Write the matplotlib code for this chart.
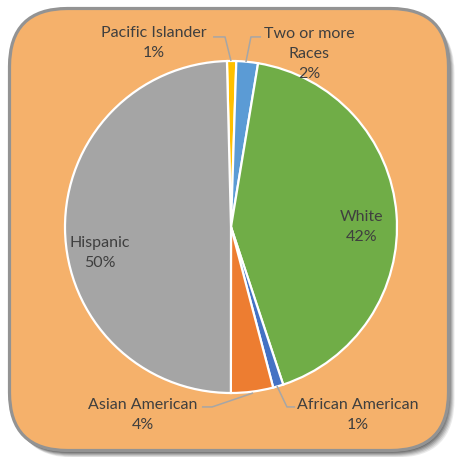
import matplotlib
matplotlib.use("Agg")
import matplotlib.pyplot as plt
from matplotlib.patches import FancyBboxPatch

categories = ["Pacific Islander", "Two or more\nRaces", "White", "African American", "Asian American", "Hispanic"]
values = [0.9, 2.1, 42.3, 1.0, 4.1, 49.6]
colors = ["#FFC000", "#5B9BD5", "#70AD47", "#4472C4", "#ED7D31", "#A5A5A5"]

plt.rcParams['font.family'] = ['Lato', 'DejaVu Sans']

W = 457
fig = plt.figure(figsize=(4.57, 4.57), dpi=100)
fig.patch.set_facecolor("white")

# background panel in pixel coordinates
bg = fig.add_axes([0, 0, 1, 1])
bg.set_xlim(0, W)
bg.set_ylim(W, 0)
bg.axis("off")
R = 58
x0, y0, x1, y1 = 9.5, 8.5, 448.5, 450.5
for i, a in enumerate([0.10, 0.13, 0.16, 0.20, 0.25, 0.32]):
    off = 7 - i
    bg.add_patch(FancyBboxPatch((x0 + R + off - 1, y0 + R + off), (x1 - x0) - 2 * R, (y1 - y0) - 2 * R,
                                boxstyle=f"round,pad={R}", fc="#3A3A3A", ec="none", alpha=a))
bg.add_patch(FancyBboxPatch((x0 + R, y0 + R), (x1 - x0) - 2 * R, (y1 - y0) - 2 * R,
                            boxstyle=f"round,pad={R}", fc="#F5B16B", ec="#939393", lw=2.3))

# pie axes: unit radius, 166 px per unit, centre at (231, 227) px
ax = fig.add_axes([0, 0, 1, 1])
ax.set_facecolor("none")
s = 166.0
cx, cy = 231.0, 227.0

total = sum(values)
start = 90 + 1.4
ax.pie(values, colors=colors, startangle=start, counterclock=False, radius=1.0,
       wedgeprops=dict(edgecolor="white", linewidth=1.6))
ax.set_xlim(-cx / s, (W - cx) / s)
ax.set_ylim(-(W - cy) / s, cy / s)
ax.set_aspect("equal")
ax.axis("off")

label_pos = [(-0.464, 1.108), (0.470, 1.042), (0.789, 0.0), (0.765, -1.133), (-0.530, -1.133), (-0.789, -0.157)]
for cat, v, (x, y) in zip(categories, values, label_pos):
    ax.text(x, y, f"{cat}\n{round(v / total * 100)}%", ha="center", va="center",
            fontsize=11.5, color="#3F3F3F", linespacing=1.55)

leaders = [
    [(-0.108, 1.145), (-0.036, 1.145), (0.0, 1.0)],
    [(0.181, 1.145), (0.120, 1.145), (0.090, 0.994)],
    [(0.386, -1.084), (0.337, -1.084), (0.277, -0.958)],
    [(-0.175, -1.084), (-0.114, -1.084), (0.133, -1.0)],
]
for pts in leaders:
    xs, ys = zip(*pts)
    ax.plot(xs, ys, color="#A6A6A6", lw=1.1, solid_capstyle="butt")

fig.savefig("out.png", dpi=100)
